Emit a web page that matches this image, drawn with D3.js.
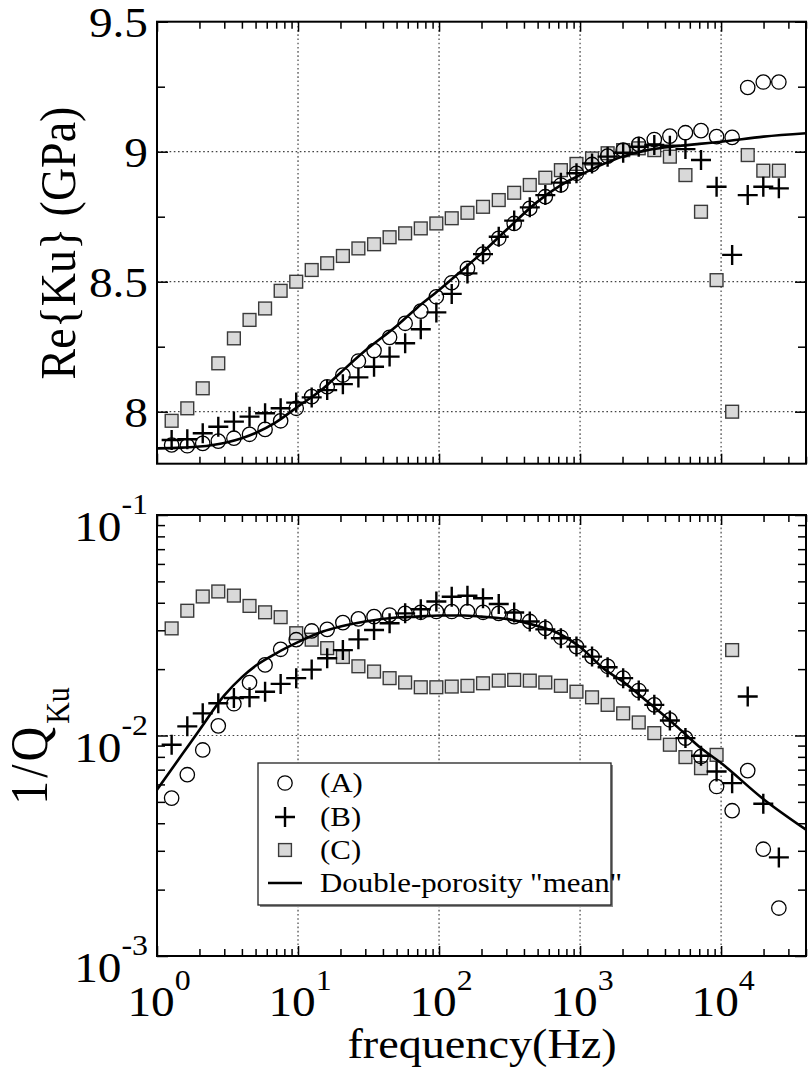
<!DOCTYPE html>
<html>
<head>
<meta charset="utf-8">
<script src="https://cdn.jsdelivr.net/npm/d3@7"></script>
<style>
  body { margin: 0; background: #fff; }
  svg { display: block; }
  text { font-family: 'Liberation Serif', 'Times New Roman', serif; }
</style>
</head>
<body>
<svg id="chart" width="810" height="1072"></svg>
<script>
// measured frequencies (Hz), shared by the three samples
const freq = [1.27, 1.64, 2.11, 2.72, 3.51, 4.53, 5.84, 7.53, 9.71, 12.5,
  16.1, 20.8, 26.8, 34.6, 44.6, 57.5, 74.2, 95.7, 123, 159,
  205, 265, 341, 440, 567, 731, 943, 1216, 1568, 2021,
  2606, 3360, 4333, 5587, 7204, 9290, 11977, 15446, 19917, 25680];

// Re{Ku} (GPa)
const reA = [7.872, 7.869, 7.878, 7.887, 7.898, 7.913, 7.932, 7.965, 8.013, 8.058,
  8.096, 8.141, 8.195, 8.235, 8.286, 8.340, 8.387, 8.442, 8.496, 8.551,
  8.606, 8.667, 8.724, 8.782, 8.827, 8.872, 8.917, 8.951, 8.983, 9.006,
  9.028, 9.047, 9.060, 9.073, 9.081, 9.058, 9.055, 9.247, 9.268, 9.268];
const reB = [7.891, 7.894, 7.917, 7.942, 7.962, 7.981, 7.994, 8.013, 8.035, 8.055,
  8.083, 8.106, 8.132, 8.173, 8.212, 8.263, 8.317, 8.382, 8.453, 8.532,
  8.606, 8.673, 8.735, 8.786, 8.833, 8.881, 8.917, 8.955, 8.981, 8.996,
  9.019, 9.026, 9.023, 9.010, 8.968, 8.865, 8.603, 8.833, 8.865, 8.859];
const reC = [7.965, 8.013, 8.090, 8.186, 8.282, 8.353, 8.397, 8.465, 8.500, 8.545,
  8.571, 8.599, 8.628, 8.644, 8.671, 8.686, 8.705, 8.724, 8.744, 8.765,
  8.788, 8.814, 8.842, 8.872, 8.900, 8.929, 8.953, 8.974, 8.994, 9.006,
  9.013, 9.006, 8.981, 8.910, 8.769, 8.506, 8.000, 8.987, 8.927, 8.927];

// 1/Q_Ku
const qA = [0.0052, 0.00664, 0.0086, 0.01106, 0.01393, 0.01739, 0.0209, 0.0246, 0.0272, 0.0298,
  0.0303, 0.0325, 0.0338, 0.0346, 0.0352, 0.0358, 0.0362, 0.0365, 0.0365, 0.0365,
  0.0362, 0.0358, 0.0346, 0.0329, 0.0306, 0.0279, 0.0253, 0.0228, 0.0206, 0.0182,
  0.016, 0.01377, 0.01178, 0.00973, 0.00803, 0.00587, 0.00456, 0.00693, 0.00305, 0.00165];
const qB = [0.00908, 0.011, 0.0126, 0.014, 0.0148, 0.0149, 0.0158, 0.01714, 0.0182, 0.0199,
  0.0224, 0.0244, 0.0273, 0.0301, 0.0323, 0.0358, 0.0374, 0.0405, 0.0426, 0.043,
  0.0419, 0.0395, 0.0361, 0.0329, 0.0303, 0.0276, 0.0253, 0.0228, 0.0204, 0.0182,
  0.016, 0.01377, 0.0117, 0.00973, 0.0081, 0.00687, 0.00608, 0.01503, 0.0049, 0.0028];
const qC = [0.0306, 0.0368, 0.0427, 0.045, 0.0431, 0.0387, 0.0362, 0.0344, 0.0291, 0.0272,
  0.0249, 0.0227, 0.0206, 0.0195, 0.0182, 0.0174, 0.01655, 0.01655, 0.01667, 0.0168,
  0.01725, 0.01774, 0.01787, 0.01774, 0.0174, 0.0168, 0.0158, 0.0149, 0.01377, 0.0126,
  0.01146, 0.01025, 0.00908, 0.00798, 0.00711, 0.00817, 0.0244];

// double-porosity "mean" model
const modelFreq = [1, 1.5, 2, 3, 4, 5, 7, 10, 15, 20, 30, 50, 70, 100, 150, 200, 300, 500, 700,
  1000, 1500, 2000, 3000, 5000, 7000, 10000, 20000, 40000];
const modelRe = [7.859, 7.862, 7.866, 7.880, 7.898, 7.918, 7.960, 8.020, 8.088, 8.150, 8.235, 8.330, 8.400,
  8.468, 8.550, 8.609, 8.699, 8.808, 8.865, 8.910, 8.955, 8.981, 9.006, 9.022, 9.030, 9.038, 9.058, 9.071];
const modelQ = [0.00568, 0.00817, 0.0106, 0.0152, 0.0184, 0.0207, 0.0236, 0.0265, 0.0296, 0.0312, 0.0329,
  0.0343, 0.0346, 0.035, 0.035, 0.0346, 0.0338, 0.0314, 0.0291, 0.0252, 0.0199, 0.0176, 0.01426,
  0.0108, 0.0089, 0.0075, 0.00514, 0.00374];

const xTickExp = [0, 1, 2, 3, 4];
const reMajor = [8, 8.5, 9, 9.5];
const reLabels = ["8", "8.5", "9", "9.5"];
const reMinor = [8.25, 8.75, 9.25];
const qTickExp = [-3, -2, -1];
const legendLabels = ["(A)", "(B)", "(C)", "Double-porosity \"mean\""];

const svg = d3.select("#chart");
const L = 157, R = 806;
const top1 = 21.7, bot1 = 463.7;
const top2 = 515, bot2 = 956;
const sx = 1.1; // the original figure is a bit wider than tall

const x = d3.scaleLog().domain([1, 40000]).range([L, R]);
const yRe = d3.scaleLinear().domain([7.8, 9.5]).range([bot1, top1]);
const yQ = d3.scaleLog().domain([1e-3, 1e-1]).range([bot2, top2]);

const isPow10 = v => Math.abs(Math.log10(v) - Math.round(Math.log10(v))) < 1e-9;
const xMajor = x.ticks().filter(isPow10);
const xMinor = x.ticks().filter(v => !isPow10(v));
const qMajor = yQ.ticks().filter(isPow10);
const qMinor = yQ.ticks().filter(v => !isPow10(v));

function grid(g, xs, ys, y, y0, y1) {
  const grp = g.append("g").attr("stroke", "#444").attr("stroke-width", 1.2)
    .attr("stroke-dasharray", "1.6,2.6");
  grp.selectAll(".gx").data(xs).enter().append("line")
    .attr("x1", d => x(d)).attr("x2", d => x(d)).attr("y1", y0).attr("y2", y1);
  grp.selectAll(".gy").data(ys).enter().append("line")
    .attr("x1", L).attr("x2", R).attr("y1", d => y(d)).attr("y2", d => y(d));
}

function ticks(g, y, y0, y1, yMaj, yMin) {
  const t = g.append("g");
  const put = (axis, tr) => {
    const a = t.append("g").attr("transform", tr).call(axis.tickFormat(""));
    a.select(".domain").remove();
    a.selectAll("line").attr("stroke", "#000").attr("stroke-width", 1.5);
  };
  put(d3.axisBottom(x).tickValues(xMinor).tickSize(-7), `translate(0,${y1})`);
  put(d3.axisTop(x).tickValues(xMinor).tickSize(-7), `translate(0,${y0})`);
  put(d3.axisBottom(x).tickValues(xMajor).tickSize(-10), `translate(0,${y1})`);
  put(d3.axisTop(x).tickValues(xMajor).tickSize(-10), `translate(0,${y0})`);
  put(d3.axisLeft(y).tickValues(yMin).tickSize(-8), `translate(${L},0)`);
  put(d3.axisRight(y).tickValues(yMin).tickSize(-8), `translate(${R},0)`);
  put(d3.axisLeft(y).tickValues(yMaj).tickSize(-11), `translate(${L},0)`);
  put(d3.axisRight(y).tickValues(yMaj).tickSize(-11), `translate(${R},0)`);
  g.append("rect").attr("x", L).attr("y", y0).attr("width", R - L).attr("height", y1 - y0)
    .attr("fill", "none").attr("stroke", "#000").attr("stroke-width", 2);
}

function markers(g, kind, xs, ys, y) {
  const pts = ys.map((v, i) => [x(xs[i]), y(v)]);
  const sel = g.append("g").selectAll("g").data(pts).enter().append("g")
    .attr("transform", d => `translate(${d[0]},${d[1]})`);
  drawMarker(sel, kind);
}

function drawMarker(sel, kind) {
  if (kind === "circle") {
    sel.append("circle").attr("r", 7.2).attr("fill", "none")
      .attr("stroke", "#000").attr("stroke-width", 1.3);
  } else if (kind === "cross") {
    sel.append("path").attr("d", "M-10,0H10M0,-10V10")
      .attr("stroke", "#000").attr("stroke-width", 2.4).attr("fill", "none");
  } else {
    sel.append("rect").attr("x", -6.4).attr("y", -6.4).attr("width", 12.8).attr("height", 12.8)
      .attr("fill", "#d9d9d9").attr("stroke", "#3a3a3a").attr("stroke-width", 1.4);
  }
}

function modelLine(g, ys, y) {
  const line = d3.line().x((d, i) => x(modelFreq[i])).y(d => y(d)).curve(d3.curveMonotoneX);
  g.append("path").datum(ys).attr("d", line).attr("fill", "none")
    .attr("stroke", "#000").attr("stroke-width", 2.6);
}

// ---- top panel: Re{Ku}
const p1 = svg.append("g");
svg.append("clipPath").attr("id", "c1").append("rect")
  .attr("x", L).attr("y", top1).attr("width", R - L).attr("height", bot1 - top1);
grid(p1, xMajor.filter(v => v > 1 && v < 40000), [8, 8.5, 9], yRe, top1, bot1);
const d1 = p1.append("g").attr("clip-path", "url(#c1)");
markers(d1, "square", freq, reC, yRe);
markers(d1, "circle", freq, reA, yRe);
markers(d1, "cross", freq, reB, yRe);
modelLine(d1, modelRe, yRe);
ticks(p1, yRe, top1, bot1, reMajor, reMinor);

p1.selectAll(".ylab").data(reMajor).enter().append("text")
  .attr("transform", d => `translate(148,${yRe(d) + 15}) scale(${sx},1)`)
  .attr("text-anchor", "end").attr("font-size", 43)
  .text((d, i) => reLabels[i]);

p1.append("text")
  .attr("transform", `translate(75,243) scale(${sx},1) rotate(-90)`)
  .attr("text-anchor", "middle").attr("font-size", 46)
  .text("Re{Ku} (GPa)");

// ---- bottom panel: 1/Q
const p2 = svg.append("g");
svg.append("clipPath").attr("id", "c2").append("rect")
  .attr("x", L).attr("y", top2).attr("width", R - L).attr("height", bot2 - top2);
grid(p2, xMajor.filter(v => v > 1 && v < 40000), [0.01], yQ, top2, bot2);
const d2 = p2.append("g").attr("clip-path", "url(#c2)");
markers(d2, "square", freq.slice(0, qC.length), qC, yQ);
markers(d2, "circle", freq, qA, yQ);
markers(d2, "cross", freq, qB, yQ);
modelLine(d2, modelQ, yQ);
ticks(p2, yQ, top2, bot2, qMajor, qMinor);

const qLab = p2.selectAll(".qlab").data(qTickExp).enter().append("text")
  .attr("transform", d => `translate(148,${yQ(Math.pow(10, d)) + 26}) scale(${sx},1)`)
  .attr("text-anchor", "end").attr("font-size", 43);
qLab.append("tspan").text("10");
qLab.append("tspan").attr("dy", -27).attr("font-size", 29).text(d => "-" + Math.abs(d));

const yt = p2.append("text")
  .attr("transform", `translate(47,746) scale(${sx},1) rotate(-90)`)
  .attr("text-anchor", "middle").attr("font-size", 48);
yt.append("tspan").attr("letter-spacing", 3).text("1/Q");
yt.append("tspan").attr("dy", 20).attr("font-size", 30).text("Ku");

// x tick labels
const xLab = svg.selectAll(".xlab").data(xTickExp).enter().append("text")
  .attr("transform", d => `translate(${x(Math.pow(10, d)) + 2},1016) scale(${sx},1)`)
  .attr("text-anchor", "middle").attr("font-size", 43);
xLab.append("tspan").text("10");
xLab.append("tspan").attr("dy", -26).attr("font-size", 29).text(d => d);

svg.append("text")
  .attr("transform", `translate(482,1058) scale(${sx},1)`)
  .attr("text-anchor", "middle").attr("font-size", 42)
  .text("frequency(Hz)");

// ---- legend
const lg = svg.append("g");
lg.append("rect").attr("x", 260).attr("y", 765).attr("width", 353).attr("height", 142).attr("fill", "#888");
lg.append("rect").attr("x", 258).attr("y", 763).attr("width", 353).attr("height", 142)
  .attr("fill", "#fff").attr("stroke", "#222").attr("stroke-width", 1.3);
const kinds = ["circle", "cross", "square", "line"];
const rowY = [783, 817, 850, 883];
kinds.forEach((k, i) => {
  const m = lg.append("g").attr("transform", `translate(285,${rowY[i]})`);
  if (k === "line") {
    m.append("line").attr("x1", -17).attr("x2", 17).attr("stroke", "#000").attr("stroke-width", 2.6);
  } else {
    drawMarker(m, k);
  }
  lg.append("text").attr("transform", `translate(320,${rowY[i] + 9}) scale(${sx * 1.04},1)`)
    .attr("font-size", 27).text(legendLabels[i]);
});
</script>
</body>
</html>
